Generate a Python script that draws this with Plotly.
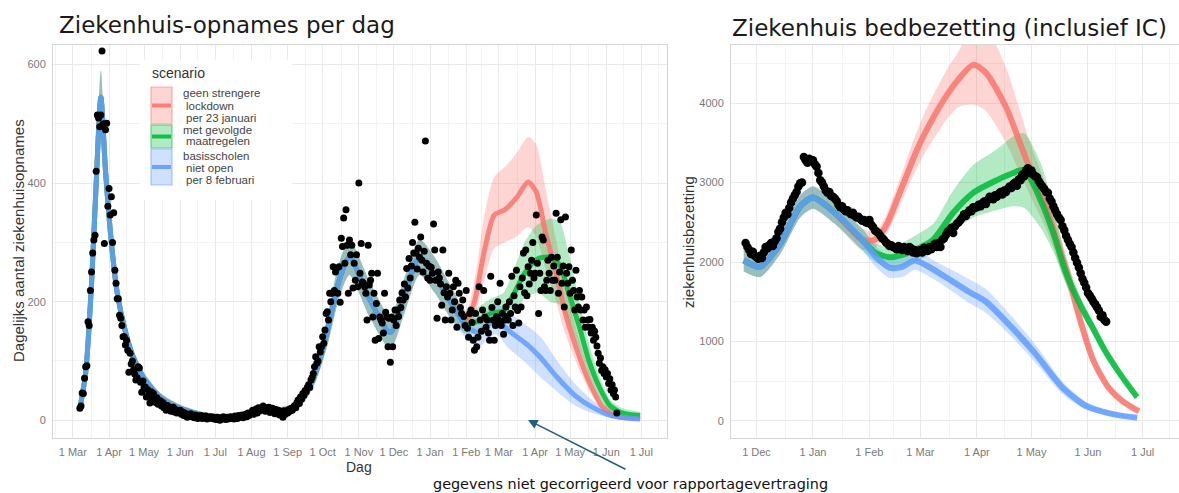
import pandas as pd
import plotly.graph_objects as go

W, H = 1179, 493

# ---------------- LEFT PANEL: observed daily hospital admissions ----------------
adm_start = "2020-03-07"
adm_2020_03 = [20, 24, 46, 45, 71, 90, 92, 166, 160, 219, 250, 282, 304, 312, 420, 515, 510, 495, 515, 623, 500, 298, 490, 501, 361]
adm_2020_04 = [391, 346, 377, 300, 350, 253, 231, 205, 205, 177, 172, 160, 141, 141, 127, 135, 118, 81, 113, 95, 100, 85, 78, 68, 72, 90, 88, 64, 47, 66]
adm_2020_05 = [55, 56, 39, 52, 44, 29, 48, 38, 45, 35, 30, 38, 27, 29, 33, 24, 30, 21, 26, 17, 25, 19, 22, 15, 20, 22, 14, 18, 12, 16, 13]
adm_2020_06 = [17, 10, 14, 8, 12, 9, 5, 10, 7, 11, 6, 8, 4, 9, 6, 3, 7, 5, 8, 3, 6, 4, 7, 2, 5, 4, 6, 3, 5, 2]
adm_2020_07 = [4, 1, 5, 3, 0, 4, 2, 6, 3, 1, 5, 2, 4, 6, 3, 5, 2, 7, 4, 3, 8, 5, 6, 9, 4, 7, 10, 6, 12, 8, 11]
adm_2020_08 = [13, 17, 10, 15, 19, 12, 21, 16, 20, 18, 24, 20, 15, 21, 17, 22, 13, 19, 20, 16, 11, 18, 14, 17, 9, 15, 12, 5, 16, 10, 14]
adm_2020_09 = [12, 18, 15, 20, 17, 22, 25, 21, 30, 34, 28, 39, 36, 45, 42, 50, 48, 56, 60, 55, 68, 72, 79, 90, 107, 96, 100, 124, 115, 124]
adm_2020_10 = [141, 130, 152, 180, 183, 169, 214, 200, 214, 259, 219, 250, 256, 214, 259, 199, 307, 293, 341, 265, 355, 295, 214, 304, 279, 295, 223, 265, 236, 279, 225]
adm_2020_11 = [400, 248, 298, 233, 231, 225, 214, 169, 295, 228, 236, 248, 174, 214, 135, 197, 248, 138, 174, 169, 164, 147, 214, 182, 174, 124, 172, 98, 174, 124]
adm_2020_12 = [169, 186, 160, 186, 175, 203, 190, 215, 203, 230, 208, 256, 223, 273, 240, 260, 300, 282, 334, 282, 255, 290, 275, 309, 270, 250, 285, 471, 265, 240, 260]
adm_2021_01 = [236, 258, 248, 331, 287, 236, 172, 250, 240, 230, 194, 287, 215, 169, 225, 208, 248, 214, 169, 186, 225, 200, 236, 157, 231, 214, 190, 180, 203, 175, 160]
adm_2021_02 = [219, 155, 140, 180, 186, 165, 135, 118, 180, 124, 140, 225, 169, 150, 186, 219, 174, 157, 169, 147, 135, 243, 190, 169, 135, 160, 175, 200]
adm_2021_03 = [169, 231, 160, 180, 145, 169, 191, 175, 169, 200, 180, 243, 160, 210, 191, 253, 185, 164, 225, 191, 240, 282, 215, 287, 210, 259, 230, 248, 270, 300, 240]
adm_2021_04 = [248, 346, 265, 180, 248, 219, 309, 304, 225, 219, 236, 270, 248, 219, 275, 236, 260, 236, 349, 275, 214, 250, 338, 231, 260, 191, 343, 248, 231, 259]
adm_2021_05 = [214, 287, 236, 219, 186, 253, 208, 191, 219, 186, 208, 169, 186, 157, 191, 169, 157, 170, 147, 157, 135, 150, 140, 125, 113, 96, 105, 84, 90, 79, 85]
adm_2021_06 = [73, 79, 62, 70, 51, 60, 45, 51, 39, 12]

# model fit (shared by all scenarios) - left panel
histL_dates = ["2020-03-07", "2020-03-12", "2020-03-17", "2020-03-21", "2020-03-25", "2020-03-29", "2020-04-03",
               "2020-04-08", "2020-04-15", "2020-04-22", "2020-05-01", "2020-05-15", "2020-06-01", "2020-06-20",
               "2020-07-10", "2020-07-25", "2020-08-10", "2020-08-25", "2020-09-05", "2020-09-15", "2020-09-25",
               "2020-10-05", "2020-10-15", "2020-10-24", "2020-11-10", "2020-11-28", "2020-12-10", "2020-12-23",
               "2021-01-05", "2021-01-20"]
histL_mid = [20, 80, 230, 400, 545, 420, 300, 215, 150, 105, 70, 38, 20, 9, 6, 9, 16, 16, 20, 40, 80, 150, 235, 275, 205, 148, 210, 275, 245, 195]
histL_lo = [14, 68, 205, 370, 500, 390, 275, 195, 135, 92, 60, 30, 14, 4, 2, 4, 10, 10, 13, 30, 65, 125, 205, 245, 175, 120, 180, 245, 215, 168]
histL_hi = [26, 92, 255, 430, 590, 450, 325, 235, 165, 118, 80, 46, 26, 14, 10, 14, 22, 22, 27, 50, 95, 175, 265, 305, 235, 176, 240, 305, 275, 222]

# scenarios - left panel
redL_dates = ["2021-02-01", "2021-02-08", "2021-02-17", "2021-02-25", "2021-03-06", "2021-03-16", "2021-03-26", "2021-04-02",
              "2021-04-10", "2021-04-19", "2021-04-27", "2021-05-09", "2021-05-18", "2021-05-29", "2021-06-10", "2021-06-30"]
redL_mid = [165, 200, 290, 346, 355, 375, 402, 385, 316, 248, 180, 107, 62, 22, 6, 3]
redL_lo = [150, 175, 240, 290, 300, 310, 326, 310, 255, 200, 145, 85, 48, 15, 3, 1]
redL_hi = [185, 235, 350, 410, 427, 450, 478, 465, 390, 304, 225, 135, 80, 32, 10, 6]

greenL_dates = ["2021-02-01", "2021-02-12", "2021-02-22", "2021-03-05", "2021-03-14", "2021-03-23", "2021-04-03", "2021-04-14",
                "2021-04-22", "2021-04-30", "2021-05-09", "2021-05-17", "2021-05-26", "2021-06-04", "2021-06-15", "2021-06-30"]
greenL_mid = [162, 168, 180, 185, 214, 248, 272, 275, 262, 214, 157, 101, 56, 25, 12, 8]
greenL_lo = [145, 148, 158, 160, 180, 205, 215, 200, 195, 165, 120, 78, 40, 15, 6, 3]
greenL_hi = [182, 192, 205, 215, 255, 300, 330, 340, 335, 280, 200, 130, 75, 35, 20, 14]

blueL_dates = ["2021-02-01", "2021-02-12", "2021-02-26", "2021-03-10", "2021-03-25", "2021-04-06", "2021-04-20",
               "2021-05-05", "2021-05-20", "2021-06-05", "2021-06-30"]
blueL_mid = [158, 148, 170, 150, 128, 105, 72, 42, 22, 8, 2]
blueL_lo = [138, 125, 145, 120, 95, 72, 48, 25, 12, 4, 0]
blueL_hi = [180, 172, 198, 180, 160, 140, 100, 62, 34, 14, 4]

# ---------------- RIGHT PANEL: observed bed occupancy ----------------
bed_start = "2020-11-25"
bed_2020_11 = [2240, 2190, 2150, 2100, 2130, 2080]
bed_2020_12 = [2060, 2040, 2080, 2050, 2120, 2190, 2170, 2210, 2240, 2200, 2260, 2300, 2380, 2420, 2500, 2560, 2620, 2600, 2680, 2750, 2800, 2840, 2880, 2950, 2990, 3000, 3320, 3280, 3250, 3300, 3270]
bed_2021_01 = [3280, 3230, 3200, 3120, 3030, 3000, 2950, 2900, 2870, 2880, 2830, 2820, 2800, 2770, 2720, 2690, 2700, 2660, 2640, 2650, 2620, 2600, 2620, 2580, 2560, 2570, 2540, 2520, 2530, 2500, 2490]
bed_2021_02 = [2530, 2470, 2440, 2400, 2380, 2365, 2330, 2300, 2280, 2250, 2230, 2200, 2210, 2190, 2180, 2160, 2200, 2170, 2150, 2190, 2160, 2140, 2190, 2170, 2120, 2150, 2110, 2130]
bed_2021_03 = [2150, 2120, 2180, 2150, 2140, 2190, 2160, 2200, 2230, 2190, 2240, 2190, 2280, 2300, 2340, 2380, 2400, 2430, 2365, 2450, 2480, 2500, 2530, 2560, 2600, 2580, 2620, 2650, 2640, 2690, 2680]
bed_2021_04 = [2690, 2720, 2700, 2740, 2760, 2730, 2780, 2820, 2800, 2790, 2840, 2820, 2860, 2880, 2850, 2900, 2880, 2920, 2950, 2930, 2980, 3000, 2960, 3040, 3030, 3100, 3080, 3150, 3180, 3120]
bed_2021_05 = [3150, 3100, 3080, 3070, 3020, 2980, 2950, 2920, 2880, 2870, 2800, 2760, 2700, 2650, 2600, 2560, 2530, 2450, 2400, 2330, 2280, 2230, 2190, 2120, 2050, 1990, 1930, 1860, 1790, 1740, 1680]
bed_2021_06 = [1610, 1580, 1540, 1500, 1470, 1430, 1390, 1310, 1330, 1270, 1250]

histR_dates = ["2020-11-24", "2020-12-03", "2020-12-14", "2020-12-25", "2021-01-01", "2021-01-13", "2021-01-28"]
histR_mid = [2020, 1940, 2230, 2700, 2810, 2620, 2280]
histR_lo = [1880, 1810, 2100, 2560, 2670, 2480, 2150]
histR_hi = [2160, 2070, 2360, 2840, 2950, 2760, 2420]

redR_dates = ["2021-02-04", "2021-02-10", "2021-02-19", "2021-02-26", "2021-03-03", "2021-03-15", "2021-03-22", "2021-03-30",
              "2021-04-06", "2021-04-17", "2021-04-24", "2021-05-01", "2021-05-09", "2021-05-16", "2021-05-22", "2021-05-28",
              "2021-06-04", "2021-06-12", "2021-06-20", "2021-06-29"]
redR_mid = [2280, 2450, 2950, 3350, 3600, 4080, 4300, 4480, 4380, 3950, 3540, 3120, 2690, 2190, 1750, 1250, 760, 430, 250, 120]
redR_lo = [2180, 2330, 2780, 3130, 3350, 3780, 3950, 3980, 3900, 3500, 3150, 2800, 2420, 1980, 1580, 1120, 680, 380, 220, 100]
redR_hi = [2380, 2580, 3130, 3580, 3860, 4400, 4650, 5000, 4950, 4450, 3950, 3450, 2960, 2400, 1920, 1380, 840, 480, 280, 140]

greenR_dates = ["2021-02-04", "2021-02-12", "2021-02-19", "2021-02-26", "2021-03-08", "2021-03-19", "2021-03-30", "2021-04-12",
                "2021-04-21", "2021-04-27", "2021-05-06", "2021-05-13", "2021-05-20", "2021-05-28", "2021-06-03", "2021-06-10",
                "2021-06-19", "2021-06-28"]
greenR_mid = [2120, 2060, 2090, 2150, 2280, 2620, 2870, 3030, 3120, 3160, 2780, 2365, 1860, 1450, 1200, 900, 580, 300]
greenR_lo = [2000, 1930, 1950, 2000, 2120, 2380, 2560, 2650, 2700, 2680, 2430, 2130, 1720, 1360, 1130, 840, 540, 270]
greenR_hi = [2240, 2190, 2240, 2330, 2480, 2900, 3220, 3420, 3580, 3620, 3250, 2700, 2050, 1560, 1280, 960, 620, 330]

blueR_dates = ["2021-02-04", "2021-02-12", "2021-02-19", "2021-02-26", "2021-03-10", "2021-03-28", "2021-04-06", "2021-04-20",
               "2021-05-03", "2021-05-18", "2021-05-31", "2021-06-14", "2021-06-28"]
blueR_mid = [2080, 1930, 1940, 2020, 1880, 1620, 1500, 1180, 850, 420, 190, 90, 40]
blueR_lo = [1950, 1800, 1810, 1900, 1760, 1480, 1360, 1060, 740, 340, 140, 60, 25]
blueR_hi = [2210, 2060, 2070, 2140, 2000, 1780, 1660, 1320, 970, 500, 240, 120, 55]

# ---------------- styling ----------------
RED, GREEN, BLUE = (248, 118, 109), (0, 186, 56), (97, 156, 255)


def rgba(c, a):
    return f"rgba({c[0]},{c[1]},{c[2]},{a})"


def px_x(p):
    return p / W


def px_y(p):
    return 1 - p / H


fig = go.Figure()

adm_vals = (adm_2020_03 + adm_2020_04 + adm_2020_05 + adm_2020_06 + adm_2020_07 + adm_2020_08 + adm_2020_09 +
            adm_2020_10 + adm_2020_11 + adm_2020_12 + adm_2021_01 + adm_2021_02 + adm_2021_03 + adm_2021_04 +
            adm_2021_05 + adm_2021_06)
adm_dates = pd.date_range(adm_start, periods=len(adm_vals), freq="D")

bed_vals = bed_2020_11 + bed_2020_12 + bed_2021_01 + bed_2021_02 + bed_2021_03 + bed_2021_04 + bed_2021_05 + bed_2021_06
bed_dates = pd.date_range(bed_start, periods=len(bed_vals), freq="D")

panels = [
    dict(xa="x", ya="y", hist=(histL_dates, histL_mid, histL_lo, histL_hi),
         sc=[(RED, redL_dates, redL_mid, redL_lo, redL_hi),
             (GREEN, greenL_dates, greenL_mid, greenL_lo, greenL_hi),
             (BLUE, blueL_dates, blueL_mid, blueL_lo, blueL_hi)],
         lw=5, obs=(adm_dates, adm_vals), ms=7),
    dict(xa="x2", ya="y2", hist=(histR_dates, histR_mid, histR_lo, histR_hi),
         sc=[(RED, redR_dates, redR_mid, redR_lo, redR_hi),
             (GREEN, greenR_dates, greenR_mid, greenR_lo, greenR_hi),
             (BLUE, blueR_dates, blueR_mid, blueR_lo, blueR_hi)],
         lw=6, obs=(bed_dates, bed_vals), ms=8.5),
]

spl = dict(shape="spline", smoothing=0.7)
for p in panels:
    hd, hm, hl, hh = p["hist"]
    for col, d, m, lo, hi in p["sc"]:
        xs = hd + d
        fig.add_trace(go.Scatter(x=xs, y=hl + lo, mode="lines", line=dict(width=0, **spl),
                                 xaxis=p["xa"], yaxis=p["ya"], hoverinfo="skip", showlegend=False))
        fig.add_trace(go.Scatter(x=xs, y=hh + hi, mode="lines", line=dict(width=0, **spl),
                                 fill="tonexty", fillcolor=rgba(col, 0.3),
                                 xaxis=p["xa"], yaxis=p["ya"], hoverinfo="skip", showlegend=False))
    for col, d, m, lo, hi in p["sc"]:
        fig.add_trace(go.Scatter(x=hd + d, y=hm + m, mode="lines",
                                 line=dict(width=p["lw"], color=rgba(col, 0.85), **spl),
                                 xaxis=p["xa"], yaxis=p["ya"], showlegend=False))
    ox, oy = p["obs"]
    fig.add_trace(go.Scatter(x=ox, y=oy, mode="markers",
                             marker=dict(size=p["ms"], color="black", line=dict(width=0)),
                             xaxis=p["xa"], yaxis=p["ya"], showlegend=False))

# ---------------- axes ----------------
tickfont = dict(family="Liberation Sans, Arial, sans-serif", size=11, color="#7a7a7a")
common = dict(showgrid=True, gridcolor="#e9e9e9", gridwidth=1, zeroline=False,
              showline=True, linecolor="#d6d6d6", linewidth=1, mirror=True,
              ticks="outside", ticklen=4, tickcolor="rgba(0,0,0,0)", tickfont=tickfont)

majL = pd.date_range("2020-03-01", "2021-07-01", freq="MS")
minL = [d - pd.Timedelta(days=15) for d in majL] + [majL[-1] + pd.Timedelta(days=15)]
majR = pd.date_range("2020-12-01", "2021-07-01", freq="MS")
minR = [d - pd.Timedelta(days=15) for d in majR] + [majR[-1] + pd.Timedelta(days=15)]

minor_grid = dict(showgrid=True, gridcolor="#f3f3f3", gridwidth=1, ticks="")

fig.update_layout(
    width=W, height=H, margin=dict(l=0, r=0, t=0, b=0),
    paper_bgcolor="white", plot_bgcolor="white", showlegend=False,
    xaxis=dict(domain=[px_x(53), px_x(667)], range=["2020-02-13", "2021-07-23"], anchor="y",
               tickmode="array", tickvals=list(majL), tickformat="%-d %b",
               minor=dict(tickmode="array", tickvals=minL, **minor_grid), **common),
    yaxis=dict(domain=[px_y(438), px_y(45)], range=[-30, 633], anchor="x",
               tickmode="array", tickvals=[0, 200, 400, 600],
               minor=dict(tickmode="array", tickvals=[100, 300, 500], **minor_grid), **common),
    xaxis2=dict(domain=[px_x(731), 1.0], range=["2020-11-17", "2021-07-21"], anchor="y2",
                tickmode="array", tickvals=list(majR), tickformat="%-d %b",
                minor=dict(tickmode="array", tickvals=minR, **minor_grid), **common),
    yaxis2=dict(domain=[px_y(438), px_y(45)], range=[-214, 4730], anchor="x2",
                tickmode="array", tickvals=[0, 1000, 2000, 3000, 4000],
                minor=dict(tickmode="array", tickvals=[500, 1500, 2500, 3500, 4500], **minor_grid), **common),
)

# ---------------- text ----------------
ann = []
title_font = dict(family="DejaVu Sans, Verdana, sans-serif", color="#1a1a1a")
ann.append(dict(text="Ziekenhuis-opnames per dag", x=px_x(57), y=px_y(25), xref="paper", yref="paper",
                xanchor="left", yanchor="middle", showarrow=False, font=dict(size=23, **title_font)))
ann.append(dict(text="Ziekenhuis bedbezetting (inclusief IC)", x=px_x(730), y=px_y(28), xref="paper", yref="paper",
                xanchor="left", yanchor="middle", showarrow=False, font=dict(size=23, **title_font)))
lab_font = dict(family="Liberation Sans, Arial, sans-serif", color="#333333")
ann.append(dict(text="Dagelijks aantal ziekenhuisopnames", x=px_x(18), y=px_y(241), xref="paper", yref="paper",
                textangle=-90, xanchor="center", yanchor="middle", showarrow=False, font=dict(size=15, **lab_font)))
ann.append(dict(text="ziekenhuisbezetting", x=px_x(688), y=px_y(242), xref="paper", yref="paper",
                textangle=-90, xanchor="center", yanchor="middle", showarrow=False, font=dict(size=15, **lab_font)))
ann.append(dict(text="Dag", x=px_x(359), y=px_y(467), xref="paper", yref="paper",
                xanchor="center", yanchor="middle", showarrow=False, font=dict(size=14, **lab_font)))
ann.append(dict(text="gegevens niet gecorrigeerd voor rapportagevertraging", x=px_x(630), y=px_y(484),
                xref="paper", yref="paper", xanchor="center", yanchor="middle", showarrow=False,
                font=dict(family="DejaVu Sans, sans-serif", size=14.4, color="#111111")))
ann.append(dict(text="", x=px_x(528), y=px_y(420), xref="paper", yref="paper", ax=99, ay=50,
                showarrow=True, arrowhead=2, arrowsize=1.2, arrowwidth=1.6, arrowcolor="#22607a"))

# legend (drawn manually, ggplot style)
shapes = [dict(type="rect", xref="paper", yref="paper", x0=px_x(140), x1=px_x(292), y0=px_y(200), y1=px_y(60),
               fillcolor="white", line=dict(width=0), layer="above")]
ann.append(dict(text="scenario", x=px_x(150), y=px_y(73), xref="paper", yref="paper", xanchor="left",
                yanchor="middle", showarrow=False, font=dict(size=14, **lab_font)))
keys = [(RED, 87, 124, ["geen strengere", " lockdown", " per 23 januari"], [93, 105.5, 118]),
        (GREEN, 125, 148, ["met gevolgde", " maatregelen"], [130, 141]),
        (BLUE, 149, 185, ["basisscholen", " niet open", " per 8 februari"], [155.5, 167.5, 180])]
for col, y0, y1, lines, ys in keys:
    shapes.append(dict(type="rect", xref="paper", yref="paper", x0=px_x(151), x1=px_x(172), y0=px_y(y1), y1=px_y(y0),
                       fillcolor=rgba(col, 0.3), line=dict(color=rgba(col, 0.55), width=1.2), layer="above"))
    ym = (y0 + y1) / 2
    shapes.append(dict(type="line", xref="paper", yref="paper", x0=px_x(152), x1=px_x(171), y0=px_y(ym), y1=px_y(ym),
                       line=dict(color=rgba(col, 0.9), width=4), layer="above"))
    for t, yy in zip(lines, ys):
        off = 3 if t.startswith(" ") else 0
        ann.append(dict(text=t.strip(), x=px_x(181 + off), y=px_y(yy), xref="paper", yref="paper", xanchor="left",
                        yanchor="middle", showarrow=False,
                        font=dict(size=11.5, family="Liberation Sans, Arial, sans-serif", color="#444444")))

fig.update_layout(annotations=ann, shapes=shapes)
fig.write_html("out.html")
